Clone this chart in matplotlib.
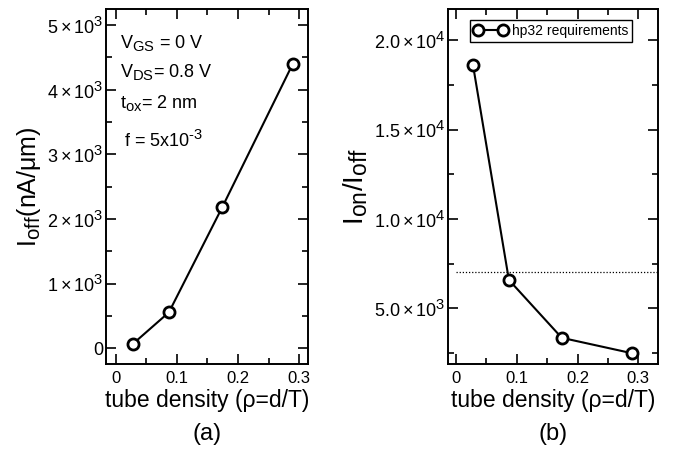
import matplotlib
matplotlib.use('Agg')
import matplotlib.pyplot as plt
import matplotlib._mathtext as mtext
from matplotlib.ticker import FuncFormatter, MultipleLocator

plt.rcParams['font.family'] = ['Liberation Sans', 'DejaVu Sans']
plt.rcParams['mathtext.fontset'] = 'custom'
plt.rcParams['mathtext.rm'] = 'Liberation Sans'
plt.rcParams['mathtext.it'] = 'Liberation Sans:italic'
# індекси у оригіналі майже такого ж розміру, як основний текст
mtext.SHRINK_FACTOR = 0.82

# дані
density = [0.028, 0.087, 0.174, 0.289]
i_off = [66, 556, 2180, 4395]
on_off = [18590, 6580, 3340, 2480]
hp32_limit = 7000

def sci_a(v, pos):
    if v == 0:
        return '0'
    return r'$\mathregular{%d\times10^{3}}$' % round(v / 1000)

def sci_b(v, pos):
    e = 4 if v >= 10000 else 3
    return r'$\mathregular{%.1f\times10^{%d}}$' % (v / 10 ** e, e)

def style(ax):
    ax.tick_params(which='both', direction='in', top=True, right=True,
                   width=1.2)
    ax.tick_params(axis='x', labelsize=12, pad=5)
    ax.tick_params(axis='y', labelsize=13, pad=2)
    ax.tick_params(which='major', length=7)
    ax.tick_params(which='minor', length=4)
    for s in ax.spines.values():
        s.set_linewidth(1.4)
    ax.xaxis.set_major_locator(MultipleLocator(0.1))
    ax.xaxis.set_minor_locator(MultipleLocator(0.05))
    ax.xaxis.set_major_formatter(FuncFormatter(lambda v, p: '0' if abs(v) < 1e-9 else '%.1f' % v))
    ax.set_xlabel('tube density (ρ=d/T)', fontsize=16.5, labelpad=2)

fig = plt.figure(figsize=(6.78, 4.51), dpi=100)
ax1 = fig.add_axes([0.157, 0.192, 0.298, 0.788])
ax2 = fig.add_axes([0.661, 0.192, 0.310, 0.788])

mk = dict(color='black', lw=1.5, marker='o', markersize=8, markerfacecolor='white',
          markeredgewidth=2)

# панель (a)
ax1.plot(density, i_off, **mk)
ax1.set_xlim(-0.015, 0.315)
ax1.set_ylim(-250, 5250)
ax1.yaxis.set_major_locator(MultipleLocator(1000))
ax1.yaxis.set_minor_locator(MultipleLocator(500))
ax1.yaxis.set_major_formatter(FuncFormatter(sci_a))
style(ax1)
ax1.set_ylabel('I$_{\\mathregular{off}}$(nA/μm)', fontsize=18, labelpad=3)
tx = 0.066
ax1.text(tx, 0.890, 'V$_{\\mathregular{GS}}$ = 0 V', transform=ax1.transAxes, fontsize=13)
ax1.text(tx, 0.809, 'V$_{\\mathregular{DS}}$= 0.8 V', transform=ax1.transAxes, fontsize=13)
ax1.text(tx, 0.721, 't$_{\\mathregular{ox}}$= 2 nm', transform=ax1.transAxes, fontsize=13)
ax1.text(tx + 0.02, 0.612, 'f = 5x10$^{\\text{-3}}$', transform=ax1.transAxes, fontsize=13)

# панель (b)
ax2.plot(density, on_off, label='hp32 requirements', **mk)
ax2.plot([0, 0.333], [hp32_limit, hp32_limit], color='black', lw=0.9, ls=(0, (1, 1.5)))
ax2.set_xlim(-0.013, 0.333)
ax2.set_ylim(1850, 21750)
ax2.yaxis.set_major_locator(MultipleLocator(5000))
ax2.yaxis.set_minor_locator(MultipleLocator(2500))
ax2.yaxis.set_major_formatter(FuncFormatter(sci_b))
style(ax2)
ax2.set_ylabel('I$_{\\mathregular{on}}$/I$_{\\mathregular{off}}$', fontsize=20, labelpad=3)
leg = ax2.legend(loc='upper right', bbox_to_anchor=(0.875, 0.97), fontsize=10, numpoints=2,
                 handlelength=2.4, handletextpad=0.3, borderpad=0.3, fancybox=False,
                 framealpha=1, borderaxespad=0)
leg.get_frame().set_edgecolor('black')
leg.get_frame().set_linewidth(1.0)

fig.text(0.306, 0.025, '(a)', ha='center', fontsize=17)
fig.text(0.816, 0.025, '(b)', ha='center', fontsize=17)

fig.savefig('out.png', dpi=100)
